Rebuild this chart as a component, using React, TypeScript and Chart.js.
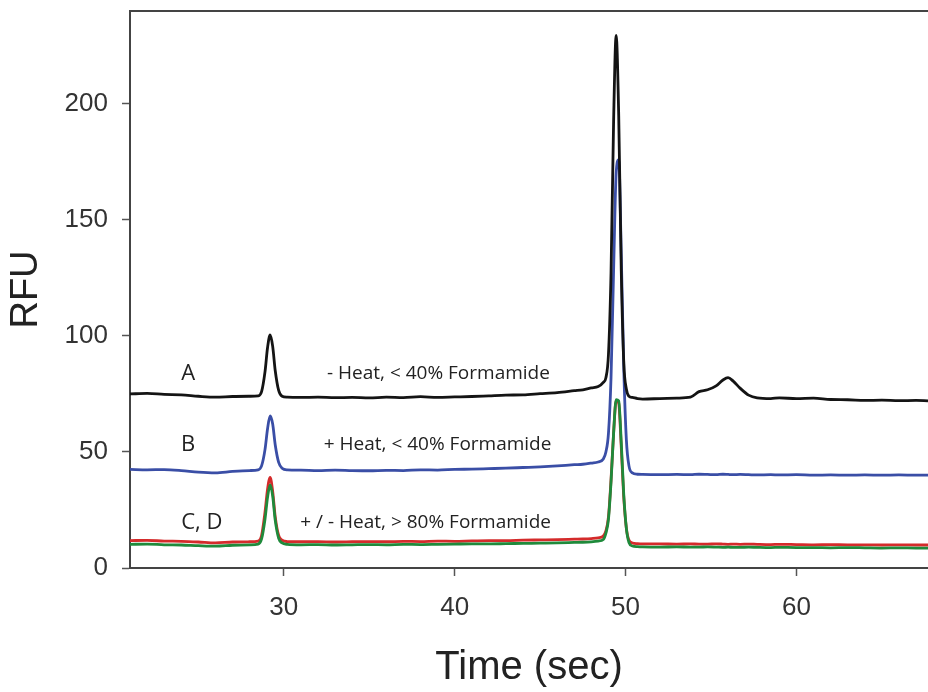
import React, { useEffect, useRef } from "react";
import { Chart, registerables } from "chart.js";

Chart.register(...registerables);

// ---- Data ----
const timeSec = [
  21, 22, 23, 24, 25, 26, 27, 28, 28.5, 28.7, 28.9, 29.05, 29.2, 29.35, 29.5, 29.7, 29.9, 30.2,
  31, 32, 33, 34, 35, 36, 37, 38, 39, 40, 41, 42, 43, 44, 45, 46, 47, 47.5, 48, 48.4, 48.7,
  48.85, 49.0, 49.15, 49.3, 49.45, 49.6, 49.75, 49.9, 50.05, 50.2, 50.4, 50.7, 51, 52, 53,
  53.8, 54.3, 54.8, 55.3, 55.7, 56.0, 56.3, 56.7, 57.2, 57.7, 58.5, 59, 60, 61, 62, 63, 64,
  65, 66, 67, 67.7,
];

// A: - Heat, < 40% Formamide (black)
const seriesA = [
  75.0, 75.2, 74.8, 74.6, 74.0, 73.6, 73.9, 74.0, 74.2, 76.0, 84.5, 95.0, 100.4, 95.5, 85.0, 76.5, 74.0, 73.6,
  73.5, 73.6, 73.4, 73.5, 73.3, 73.6, 73.4, 73.8, 73.5, 73.7, 73.9, 74.2, 74.5, 74.6, 75.1, 75.6, 76.4, 76.8, 77.6, 78.2, 80.0,
  82.0, 92.0, 127.0, 192.0, 229.5, 195.0, 128.0, 88.0, 77.0, 74.0, 73.5, 73.0, 72.8, 73.0, 73.2,
  73.6, 76.0, 76.8, 78.5, 81.0, 82.0, 80.5, 77.5, 74.5, 73.3, 73.0, 73.3, 73.0, 73.2, 72.6, 72.5, 72.2,
  72.3, 72.1, 72.2, 72.0,
];

// B: + Heat, < 40% Formamide (blue)
const seriesB = [
  42.5, 42.3, 42.4, 42.0, 41.3, 41.0, 41.6, 42.0, 42.3, 44.0, 51.0, 60.0, 65.5, 62.0, 53.0, 45.5, 43.0, 42.3,
  42.2, 42.0, 42.2, 42.0, 41.9, 42.1, 42.0, 42.3, 42.2, 42.5, 42.6, 42.8, 43.0, 43.3, 43.6, 44.0, 44.5, 44.7, 45.2, 45.7, 47.0,
  50.0, 58.0, 82.0, 128.0, 170.0, 176.0, 135.0, 85.0, 55.0, 44.0, 41.0, 40.4, 40.3, 40.2, 40.3,
  40.2, 40.4, 40.3, 40.2, 40.4, 40.3, 40.2, 40.3, 40.2, 40.1, 40.2, 40.1, 40.2, 40.0, 40.1, 40.0, 40.1,
  40.0, 40.1, 40.0, 40.0,
];

// C: red
const seriesC = [
  11.8, 11.9, 11.6, 11.5, 11.2, 10.8, 11.2, 11.3, 11.6, 14.0, 24.0, 34.0, 39.0, 33.0, 22.0, 14.0, 12.0, 11.4,
  11.3, 11.4, 11.2, 11.3, 11.4, 11.3, 11.5, 11.4, 11.6, 11.5, 11.7, 11.8, 11.8, 12.0, 12.1, 12.2, 12.4, 12.5, 12.7, 13.0, 13.8,
  16.0, 22.0, 38.0, 58.0, 72.0, 71.0, 52.0, 30.0, 17.0, 12.0, 10.8, 10.5, 10.4, 10.4, 10.3,
  10.4, 10.3, 10.3, 10.4, 10.3, 10.2, 10.3, 10.2, 10.3, 10.2, 10.1, 10.2, 10.1, 10.0, 10.1, 10.0, 10.0,
  9.9, 10.0, 9.9, 9.9,
];

// D: green
const seriesD = [
  10.2, 10.3, 10.0, 9.9, 9.6, 9.4, 9.8, 10.0, 10.3, 12.5, 21.0, 30.5, 35.8, 31.0, 20.5, 12.8, 10.8, 10.2,
  10.0, 10.1, 9.9, 10.0, 10.1, 10.0, 10.2, 10.1, 10.2, 10.3, 10.4, 10.4, 10.5, 10.6, 10.7, 10.8, 11.0, 11.1, 11.3, 11.6, 12.3,
  15.0, 21.0, 37.0, 58.0, 72.5, 72.0, 54.0, 31.0, 17.0, 11.0, 9.5, 9.2, 9.1, 9.0, 9.1,
  9.0, 9.0, 9.1, 9.0, 8.9, 9.0, 8.9, 8.9, 9.0, 8.9, 8.8, 8.9, 8.8, 8.8, 8.7, 8.8, 8.7,
  8.6, 8.7, 8.6, 8.6,
];

const xTicks = [30, 40, 50, 60];
const yTicks = [0, 50, 100, 150, 200];

// Text annotations (anchored in data coordinates)
const letterTexts = ["A", "B", "C, D"];
const letterX = [24.4, 24.4, 25.2];
const letterY = [83.8, 53.0, 19.5];
const conditionTexts = ["- Heat, < 40% Formamide", "+ Heat, < 40% Formamide", "+ / - Heat, > 80% Formamide"];
const conditionX = [39.05, 39.0, 38.3];
const conditionY = [83.8, 53.0, 19.5];

const AXIS_FONT = '"Liberation Sans", Arial, Helvetica, sans-serif';
const NOTE_FONT = '"Open Sans", "Noto Sans", sans-serif';

const toPoints = (ys: number[]) => timeSec.map((t, i) => ({ x: t, y: ys[i] }));

const decorPlugin = {
  id: "decor",
  afterDatasetsDraw(chart: any) {
    const { ctx, chartArea, scales } = chart;
    ctx.save();
    // top frame line
    ctx.strokeStyle = "#444";
    ctx.lineWidth = 2;
    ctx.beginPath();
    ctx.moveTo(chartArea.left - 1, chartArea.top);
    ctx.lineTo(chartArea.right, chartArea.top);
    ctx.stroke();

    ctx.fillStyle = "#222";
    ctx.textBaseline = "middle";
    ctx.textAlign = "center";
    ctx.font = `22px ${NOTE_FONT}`;
    letterTexts.forEach((t, i) => {
      ctx.fillText(t, scales.x.getPixelForValue(letterX[i]), scales.y.getPixelForValue(letterY[i]));
    });
    ctx.font = `19px ${NOTE_FONT}`;
    conditionTexts.forEach((t, i) => {
      ctx.fillText(t, scales.x.getPixelForValue(conditionX[i]), scales.y.getPixelForValue(conditionY[i]));
    });
    ctx.restore();
  },
};

export default function App() {
  const canvasRef = useRef<HTMLCanvasElement | null>(null);

  useEffect(() => {
    document.body.style.margin = "0";
    const canvas = canvasRef.current;
    if (!canvas) return;
    const lineDs = (label: string, ys: number[], color: string) => ({
      label,
      data: toPoints(ys),
      borderColor: color,
      backgroundColor: color,
      borderWidth: 2.8,
      pointRadius: 0,
      cubicInterpolationMode: "monotone" as const,
      fill: false,
    });
    const chart = new Chart(canvas, {
      type: "line",
      data: {
        datasets: [
          lineDs("A", seriesA, "#141414"),
          lineDs("B", seriesB, "#3a4ea6"),
          lineDs("D", seriesD, "#1f8a3b"),
          lineDs("C", seriesC, "#d42b2b"),
        ],
      },
      options: {
        animation: false,
        responsive: false,
        devicePixelRatio: 1,
        layout: { padding: { top: 11, right: 0, left: 0, bottom: 0 } },
        plugins: { legend: { display: false }, tooltip: { enabled: false } },
        scales: {
          x: {
            type: "linear",
            min: 21,
            max: 67.7,
            afterBuildTicks: (s: any) => {
              s.ticks = xTicks.map((v) => ({ value: v }));
            },
            afterFit: (s: any) => {
              s.height = 124;
              s.paddingLeft = 0;
              s.paddingRight = 0;
            },
            grid: { drawOnChartArea: false, drawTicks: true, tickLength: 8, tickColor: "#555", tickWidth: 1.5 },
            border: { display: true, color: "#444", width: 2 },
            ticks: {
              font: { family: AXIS_FONT, size: 26 },
              color: "#333",
              padding: 16,
              maxRotation: 0,
              autoSkip: false,
            },
            title: {
              display: true,
              text: "Time (sec)",
              font: { family: AXIS_FONT, size: 40 },
              color: "#222",
              padding: { top: 0, bottom: 0 },
            },
          },
          y: {
            type: "linear",
            min: 0,
            max: 240,
            afterBuildTicks: (s: any) => {
              s.ticks = yTicks.map((v) => ({ value: v }));
            },
            afterFit: (s: any) => {
              s.width = 130;
              s.paddingTop = 0;
              s.paddingBottom = 0;
            },
            grid: { drawOnChartArea: false, drawTicks: true, tickLength: 8, tickColor: "#555", tickWidth: 1.5 },
            border: { display: true, color: "#444", width: 2 },
            ticks: {
              font: { family: AXIS_FONT, size: 26 },
              color: "#333",
              padding: 14,
              autoSkip: false,
            },
            title: {
              display: true,
              text: "RFU",
              font: { family: AXIS_FONT, size: 38 },
              color: "#222",
              padding: { top: 4, bottom: 0 },
            },
          },
        },
      },
      plugins: [decorPlugin],
    });
    return () => chart.destroy();
  }, []);

  return (
    <div style={{ width: 928, height: 692 }}>
      <canvas ref={canvasRef} width={928} height={692} style={{ display: "block" }} />
    </div>
  );
}
